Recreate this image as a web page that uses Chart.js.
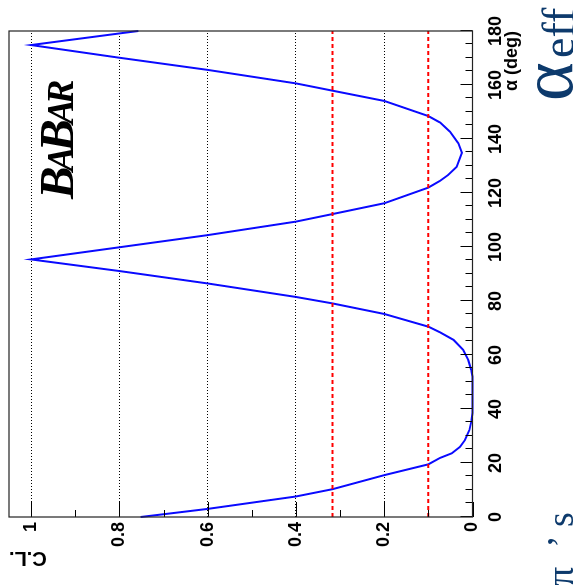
<!DOCTYPE html>
<html>
<head>
<meta charset="utf-8">
<script src="https://cdn.jsdelivr.net/npm/chart.js@4.4.1/dist/chart.umd.min.js"></script>
<style>
  html, body { margin: 0; padding: 0; background: #fff; }
  #page { position: relative; width: 573px; height: 585px; overflow: hidden; }
  /* the plot is laid out landscape and turned a quarter turn to the left */
  #cl-chart { position: absolute; left: 0; top: 0; transform-origin: 0 0; transform: translateY(585px) rotate(-90deg); }
</style>
</head>
<body>
<div id="page"><canvas id="cl-chart" width="585" height="573"></canvas></div>
<script>
// C.L. scan versus alpha (deg)
var alphaDeg = [0, 3, 7.6, 10.3, 15.5, 19.5, 21.9, 23.6, 26, 28.5, 32.2, 35.9, 38.5,
  52, 54.4, 58.1, 61.9, 65.6, 68.4, 70.5, 75.2, 79.1, 81.5, 86.5, 91.1, 95.4,
  99.9, 104.4, 109.4, 112.2, 116.2, 122, 124.5, 126.7, 129.7, 134.9, 138.4, 142.7, 146.1,
  148.5, 154.1, 157.9, 160.6, 165.6, 170.1, 174.8, 179.1, 180];
var confLevel = [0.752, 0.60, 0.40, 0.317, 0.20, 0.10, 0.0735, 0.047, 0.028, 0.017, 0.007, 0.002, 0.0,
  0.0, 0.003, 0.0095, 0.021, 0.043, 0.0735, 0.10, 0.20, 0.317, 0.40, 0.60, 0.80, 1.0,
  0.80, 0.60, 0.40, 0.317, 0.20, 0.10, 0.0735, 0.055, 0.036, 0.024, 0.032, 0.051, 0.0735,
  0.10, 0.20, 0.317, 0.40, 0.60, 0.80, 1.0, 0.80, 0.757];

// reference levels: 1 sigma and 90%
var clLevels = [0.317, 0.1];

var alphaRange = [0, 180];
var clRange = [0, 1.05];

var labelFont = '"Liberation Sans", Arial, sans-serif';
var slideFont = '"Liberation Serif", "Times New Roman", serif';
var slideBlue = '#0d3a6c';

// ticks drawn inside the frame, ROOT style, plus the frame itself
var frameTicks = {
  id: 'frameTicks',
  afterDatasetsDraw: function(chart) {
    var ctx = chart.ctx, a = chart.chartArea;
    var x = chart.scales.x, y = chart.scales.y;
    ctx.save();
    ctx.strokeStyle = '#000';
    ctx.lineWidth = 1;
    ctx.beginPath();
    x.ticks.forEach(function(t) {
      var px = Math.round(x.getPixelForValue(t.value)) + 0.5;
      var len = (Math.round(t.value) % 20 === 0) ? 12 : 7;
      ctx.moveTo(px, a.bottom);
      ctx.lineTo(px, a.bottom - len);
    });
    y.ticks.forEach(function(t) {
      if (t.value > 1.0001) return;
      var py = Math.round(y.getPixelForValue(t.value)) + 0.5;
      var len = (Math.round(t.value * 100) % 20 === 0) ? 15 : 7;
      ctx.moveTo(a.left, py);
      ctx.lineTo(a.left + len, py);
    });
    ctx.stroke();
    ctx.strokeStyle = '#222';
    ctx.lineWidth = 1.2;
    ctx.strokeRect(a.left, a.top, a.right - a.left, a.bottom - a.top);
    ctx.restore();
  },
  afterDraw: function(chart) {
    var ctx = chart.ctx;
    ctx.save();
    // experiment logo
    ctx.fillStyle = '#000';
    ctx.textBaseline = 'alphabetic';
    var u = 386, base = 73;
    [['B', 49], ['A', 37], ['B', 49], ['A', 37], ['R', 37]].forEach(function(l) {
      ctx.font = 'italic bold ' + l[1] + 'px ' + slideFont;
      ctx.fillText(l[0], u, base);
      u += ctx.measureText(l[0]).width - 5;
    });
    // slide text around the plot
    ctx.fillStyle = slideBlue;
    ctx.font = '74px ' + slideFont;
    ctx.fillText('α', 484, 572);
    ctx.font = '46px ' + slideFont;
    ctx.fillText('eff', 527, 574);
    ctx.font = '38px ' + slideFont;
    ctx.fillText('π', -1, 573);
    ctx.fillText('’', 37, 573);
    ctx.fillText('s', 58, 573);
    ctx.restore();
  }
};

var curve = alphaDeg.map(function(a, i) { return { x: a, y: confLevel[i] }; });

var datasets = [{
  label: 'C.L.',
  data: curve,
  borderColor: '#0a0aff',
  borderWidth: 2,
  pointRadius: 0,
  tension: 0,
  clip: 3,
  order: 1
}];
clLevels.forEach(function(lv) {
  datasets.push({
    label: 'C.L. ' + lv,
    data: [{ x: alphaRange[0], y: lv }, { x: alphaRange[1], y: lv }],
    borderColor: '#ff0000',
    borderWidth: 2,
    borderDash: [4, 3],
    pointRadius: 0,
    order: 0
  });
});

new Chart(document.getElementById('cl-chart').getContext('2d'), {
  type: 'line',
  data: { datasets: datasets },
  options: {
    responsive: false,
    animation: false,
    events: [],
    layout: { padding: { left: 0, right: 31, top: 9, bottom: 0 } },
    plugins: { legend: { display: false }, tooltip: { enabled: false } },
    scales: {
      x: {
        type: 'linear',
        min: alphaRange[0],
        max: alphaRange[1],
        afterFit: function(s) { s.height = 100.5; s.paddingLeft = 0; s.paddingRight = 0; },
        grid: { display: false, drawTicks: false },
        border: { display: false },
        ticks: {
          stepSize: 5,
          autoSkip: false,
          maxRotation: 0,
          padding: 13,
          color: '#000',
          font: { family: labelFont, weight: 'bold', size: 18 },
          callback: function(v) { return Math.round(v) % 20 === 0 ? String(Math.round(v)) : ''; }
        },
        title: {
          display: true,
          text: 'α (deg)',
          align: 'end',
          color: '#000',
          font: { family: labelFont, weight: 'bold', size: 18 },
          padding: { top: 0, bottom: 50 }
        }
      },
      y: {
        type: 'linear',
        min: clRange[0],
        max: clRange[1],
        afterFit: function(s) { s.width = 68; s.paddingTop = 0; s.paddingBottom = 0; },
        grid: {
          drawTicks: false,
          lineWidth: 1,
          borderDash: [1, 2],
          color: function(c) {
            var v = c.tick ? c.tick.value : 0;
            var k = Math.round(v * 100);
            return (k > 0 && k <= 100 && k % 20 === 0) ? '#000' : 'rgba(0,0,0,0)';
          }
        },
        border: { display: false, dash: [1, 2] },
        ticks: {
          stepSize: 0.05,
          padding: 5,
          color: '#000',
          font: { family: labelFont, weight: 'bold', size: 18 },
          callback: function(v) {
            var k = Math.round(v * 100);
            return (k % 20 === 0 && k <= 100) ? String(k / 100) : '';
          }
        },
        title: {
          display: true,
          text: 'C.L.',
          align: 'end',
          color: '#000',
          font: { family: labelFont, weight: 'bold', size: 20 },
          padding: { top: 15, bottom: 0 }
        }
      }
    }
  },
  plugins: [frameTicks]
});
</script>
</body>
</html>
